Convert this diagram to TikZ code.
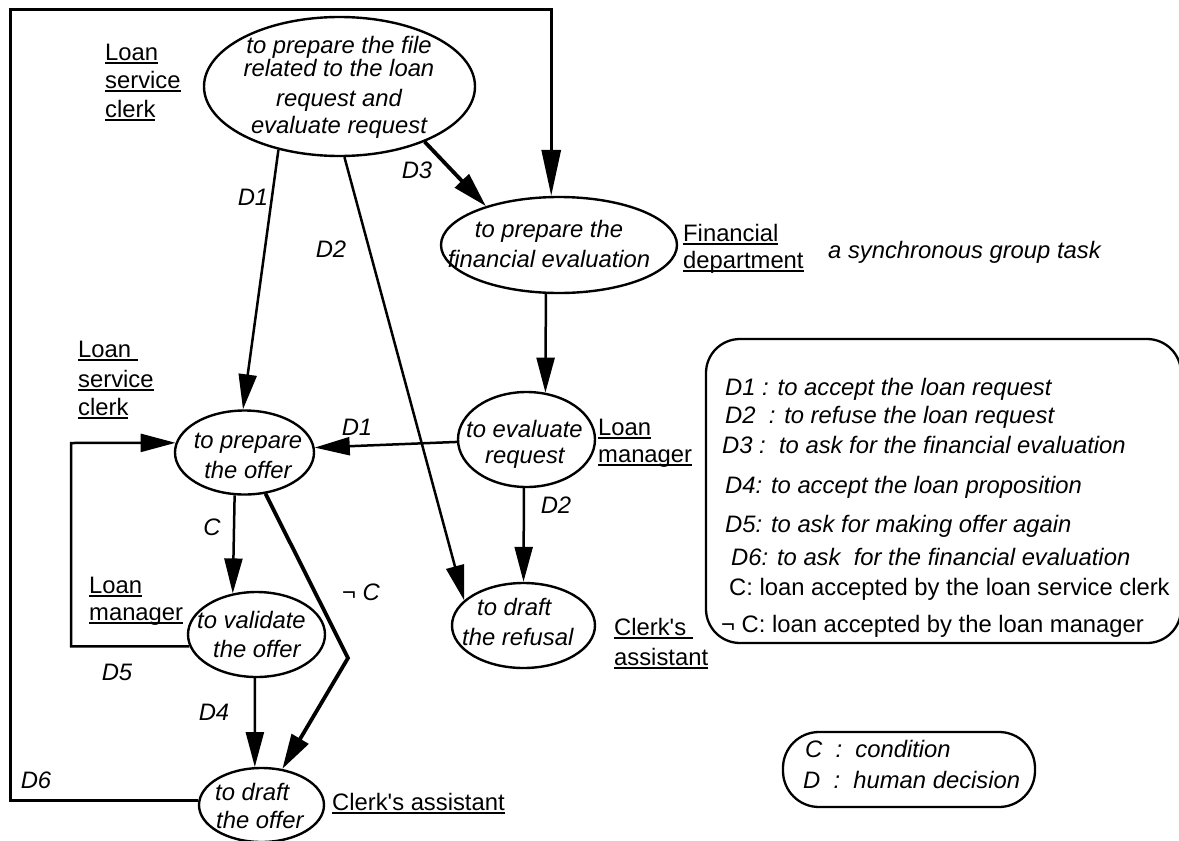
\documentclass[tikz,border=0pt]{standalone}
\usepackage{fontspec}
\setmainfont{Liberation Sans}[Ligatures=TeXOff]
\usetikzlibrary{arrows.meta,shapes.geometric}
\newcommand{\ulbox}[1]{\setbox0=\hbox{#1}\rlap{\rule[-3.8pt]{\wd0}{1.5pt}}\box0}
\begin{document}
\begin{tikzpicture}[x=1pt,y=-1pt,
  task/.style={ellipse, draw, line width=2.4pt, inner sep=0pt},
  it/.style={inner sep=0pt, anchor=base, font=\fontsize{23.8}{28}\selectfont\itshape},
  itw/.style={it, anchor=base west},
  role/.style={inner sep=0pt, anchor=base west, font=\fontsize{23.8}{28}\selectfont},
  conn/.style={line width=2.5pt, -{Triangle[length=35pt,width=18pt]}},
  thick conn/.style={line width=3.8pt, -{Triangle[length=35pt,width=19pt]}},
  legend/.style={draw, line width=2.3pt, rounded corners=34pt}]
\useasboundingbox (0,0) rectangle (1179,841);

% task ellipses
\node[task, minimum width=271pt, minimum height=139pt] (t1) at (339.5,86.5) {};
\node[task, minimum width=236pt, minimum height=96pt] (fe) at (559,245) {};
\node[task, minimum width=139pt, minimum height=84pt] (po) at (244.5,452.5) {};
\node[task, minimum width=137pt, minimum height=95pt] (er) at (526.5,439.5) {};
\node[task, minimum width=137pt, minimum height=85pt] (vo) at (256.5,634.5) {};
\node[task, minimum width=143pt, minimum height=85pt] (dr) at (523.5,625.5) {};
\node[task, minimum width=125pt, minimum height=74pt] (do) at (261.5,805) {};

% task texts
\node[it] (t1a) at (339,53) {to prepare the file};
\node[it] (t1b) at (339,76) {related to the loan};
\node[it] (t1c) at (339,106) {request and};
\node[it] (t1d) at (339,133) {evaluate request};
\node[it] (fea) at (549,237) {to prepare the};
\node[it] (feb) at (549,267) {financial evaluation};
\node[it] (poa) at (248,448) {to prepare};
\node[it] (pob) at (248,478) {the offer};
\node[itw] (voa) at (197,628) {to validate};
\node[itw] (vob) at (213,657) {the offer};
\node[itw] (doa) at (215,800) {to draft};
\node[itw] (dob) at (216,828) {the offer};
\node[itw] (era) at (466,437) {to evaluate};
\node[itw] (erb) at (485,463) {request};
\node[itw] (dra) at (477,615) {to draft};
\node[itw] (drb) at (462,645) {the refusal};

% role labels
\node[role] (r1a) at (105,60) {\ulbox{Loan}};
\node[role] (r1b) at (105,88) {\ulbox{service}};
\node[role] (r1c) at (105,117) {\ulbox{clerk}};
\node[role] (r2a) at (78,357) {\ulbox{Loan\ }};
\node[role] (r2b) at (78,387) {\ulbox{service}};
\node[role] (r2c) at (78,415) {\ulbox{clerk}};
\node[role] (r3a) at (89,593) {\ulbox{Loan}};
\node[role] (r3b) at (89,620) {\ulbox{manager}};
\node[role] (r4a) at (598,435) {\ulbox{Loan}};
\node[role] (r4b) at (598,462) {\ulbox{manager}};
\node[role] (r5a) at (683,241) {\ulbox{Financial}};
\node[role] (r5b) at (683,268) {\ulbox{department}};
\node[role] (r6a) at (614,635) {\ulbox{Clerk's\ }};
\node[role] (r6b) at (614,665) {\ulbox{assistant}};
\node[role] (r7) at (332,810) {\ulbox{Clerk's assistant}};
\node[itw] (sync) at (828,258) {a synchronous group task};

% corner coordinates
\coordinate (fL) at (10,9.5);
\coordinate (lp) at (71,443);
\coordinate (bend) at (348,658);

% connectors
\draw[conn, -{Triangle[length=46pt,width=19pt]}, line width=3pt] (do.176) -| (fL) -| (fe.99.5);
\draw[thick conn] (t1.-33.3) -- (fe.152.2);
\draw[conn] (t1.226.5) -- (po.92);
\draw[conn] (t1.-86.2) -- (dr.157.5);
\draw[conn] (fe.255.8) -- (er.68.7);
\draw[conn] (er.182) -- (po.4);
\draw[conn] (er.267) -- (dr.90);
\draw[conn] (po.257.4) -- (vo.120.5);
\draw[thick conn] (po.-63.2) -- (bend) -- (do.60);
\draw[conn] (vo.190) -| (lp) -- (po.172);
\draw[conn] (vo.268) -- (do.100);

% connector labels
\node[it] (lD1a) at (253,205) {D1};
\node[it] (lD2a) at (331,257) {D2};
\node[it] (lD3) at (417,178) {D3};
\node[it] (lD1b) at (357,435) {D1};
\node[it] (lD2b) at (556,513) {D2};
\node[it] (lC) at (212,535) {C};
\node[itw] (lnC) at (342,600) {{\upshape ¬} C};
\node[it] (lD5) at (117,680) {D5};
\node[it] (lD4) at (214,720) {D4};
\node[it] (lD6) at (36,788) {D6};

% legend boxes
\draw[legend] (706,339) rectangle (1181,643);
\node[itw] (g1) at (725,395) {D1 : to accept the loan request};
\node[itw] (g2) at (725,423) {D2\ \ : to refuse the loan request};
\node[itw] (g3) at (722,453) {D3 :\ \ to ask for the financial evaluation};
\node[itw] (g4) at (725,493) {D4: to accept the loan proposition};
\node[itw] (g5) at (725,532) {D5: to ask for making offer again};
\node[itw] (g6) at (731,565) {D6: to ask\ \ for the financial evaluation};
\node[role] (g7) at (729,595) {C: loan accepted by the loan service clerk};
\node[role] (g8) at (721,632) {¬ C: loan accepted by the loan manager};

\draw[legend, rounded corners=36pt] (783,732) rectangle (1035,807);
\node[itw] (h1) at (805,757) {C\ \ :\ \ condition};
\node[itw] (h2) at (803,788) {D\ \ :\ \ human decision};
\end{tikzpicture}
\end{document}
